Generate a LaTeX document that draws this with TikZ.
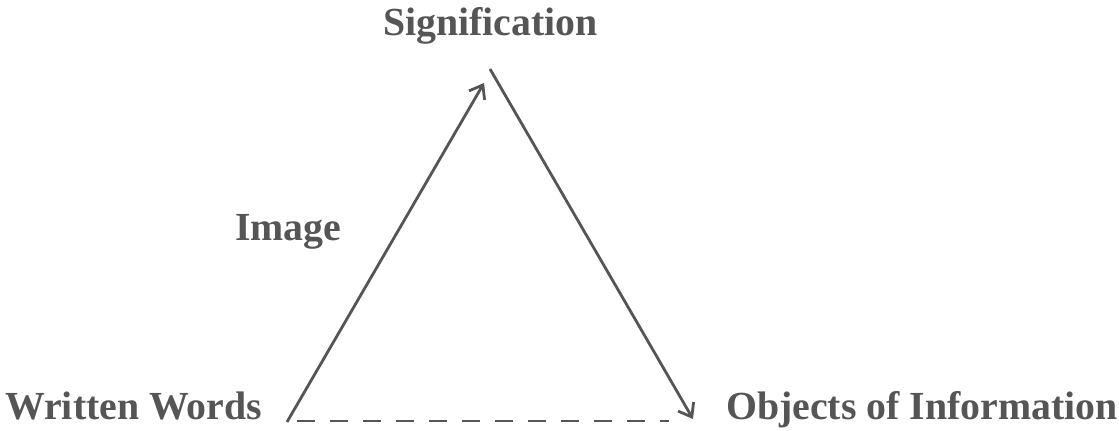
\documentclass[tikz,border=0pt]{standalone}
\usepackage{fontspec}
\setmainfont{Liberation Serif}
\usetikzlibrary{arrows.meta}
\definecolor{ink}{HTML}{555555}
\tikzset{
  lbl/.style={anchor=base west, inner sep=0pt, text=ink, font=\fontsize{39.8}{46}\selectfont\bfseries},
  conn/.style={draw=ink, line width=2.8pt},
  tipped/.style={conn, -{Straight Barb[length=12pt,width=18pt,line width=2.8pt]}},
  dashconn/.style={conn, dash pattern=on 18pt off 15pt}
}
\begin{document}
\begin{tikzpicture}[x=1pt,y=1pt]
\useasboundingbox (0,0) rectangle (1119,431);
\node[lbl] (sig) at (383,395) {Signification};
\node[lbl] (img) at (235,190) {Image};
\node[lbl] (ww) at (5,11) {Written Words};
\node[lbl] (obj) at (726,11) {Objects of Information};
\coordinate (a) at (287,9);
\coordinate (b) at (484,348);
\coordinate (c) at (490,362);
\coordinate (d) at (693,12);
\coordinate (e) at (297,10);
\coordinate (f) at (669,10);
\draw[tipped] (a) -- (b);
\draw[tipped] (c) -- (d);
\draw[dashconn] (e) -- (f);
\end{tikzpicture}
\end{document}
